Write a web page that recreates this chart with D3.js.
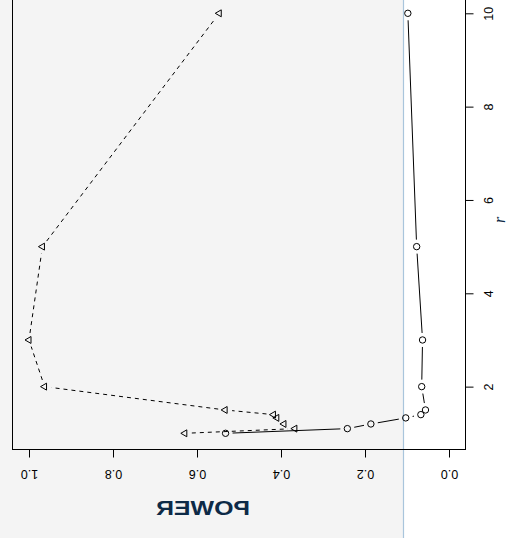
<!DOCTYPE html>
<html>
<head>
<meta charset="utf-8">
<script src="https://cdn.jsdelivr.net/npm/d3@7"></script>
<style>
  html, body { margin: 0; padding: 0; background: #ffffff; }
  svg { display: block; }
</style>
</head>
<body>
<svg id="chart" width="523" height="538"></svg>
<script>
// Power against r for two tests, drawn turned a quarter turn
const rValues = [1, 1.1, 1.2, 1.33, 1.4, 1.5, 2, 3, 5, 10];
const powerCircle = [0.532, 0.242, 0.186, 0.103, 0.067, 0.056, 0.065, 0.063, 0.077, 0.098];
const powerTriangle = [0.629, 0.367, 0.393, 0.41, 0.418, 0.533, 0.963, 1.0, 0.968, 0.547];
const rTicks = [2, 4, 6, 8, 10];
const powerTicks = [0, 0.2, 0.4, 0.6, 0.8, 1.0];

const svg = d3.select("#chart");

// page panel behind the figure
svg.append("rect").attr("x", 0).attr("y", 0).attr("width", 403).attr("height", 538).attr("fill", "#f4f4f4");
svg.append("line").attr("x1", 403.5).attr("x2", 403.5).attr("y1", 0).attr("y2", 538)
  .attr("stroke", "#a9c5dc").attr("stroke-width", 1.2);

// r runs upward, power runs leftward
const rScale = d3.scaleLinear().domain([1, 10]).range([433.3, 13.3]);
const pScale = d3.scaleLinear().domain([0, 1]).range([449, 29]);

const boxLeft = 12.5, boxRight = 465.5, boxBottom = 449.5;
const boxTop = rScale(10.36);

svg.append("rect")
  .attr("x", boxLeft).attr("y", boxTop)
  .attr("width", boxRight - boxLeft).attr("height", boxBottom - boxTop)
  .attr("fill", "none").attr("stroke", "#000").attr("stroke-width", 1);

// power axis along the bottom
const pAxis = svg.append("g")
  .attr("transform", `translate(0,${boxBottom})`)
  .call(d3.axisBottom(pScale).tickValues(powerTicks).tickSize(8).tickFormat(d3.format(".1f")));
pAxis.select(".domain").remove();
pAxis.selectAll(".tick line").attr("stroke", "#000");
pAxis.selectAll(".tick text")
  .attr("y", null).attr("dy", null)
  .attr("dominant-baseline", "central")
  .attr("transform", "translate(0,24) rotate(180)")
  .attr("fill", "#000")
  .style("font-family", "'Liberation Sans', Arial, sans-serif")
  .style("font-size", "12.5px");

// r axis along the right side
const rAxis = svg.append("g")
  .attr("transform", `translate(${boxRight},0)`)
  .call(d3.axisRight(rScale).tickValues(rTicks).tickSize(8).tickFormat(d3.format("d")));
rAxis.select(".domain").remove();
rAxis.selectAll(".tick line").attr("stroke", "#000");
rAxis.selectAll(".tick text")
  .attr("x", null).attr("dy", null)
  .attr("text-anchor", "middle")
  .attr("dominant-baseline", "central")
  .attr("transform", "translate(23,0) rotate(-90)")
  .attr("fill", "#000")
  .style("font-family", "'Liberation Sans', Arial, sans-serif")
  .style("font-size", "12.5px");

// connecting segments leave a gap around each marker
const gap = 7;
function drawSeries(values, dash) {
  const pts = rValues.map((r, i) => [pScale(values[i]), rScale(r)]);
  const segs = [];
  for (let i = 0; i < pts.length - 1; i++) {
    const [x0, y0] = pts[i], [x1, y1] = pts[i + 1];
    const d = Math.hypot(x1 - x0, y1 - y0);
    if (d > 2 * gap) {
      const f = gap / d;
      segs.push([x0 + (x1 - x0) * f, y0 + (y1 - y0) * f, x1 - (x1 - x0) * f, y1 - (y1 - y0) * f]);
    }
  }
  svg.append("g").selectAll("line").data(segs).join("line")
    .attr("x1", d => d[0]).attr("y1", d => d[1])
    .attr("x2", d => d[2]).attr("y2", d => d[3])
    .attr("stroke", "#000").attr("stroke-width", 1)
    .attr("stroke-dasharray", dash);
  return pts;
}

const circlePts = drawSeries(powerCircle, null);
svg.append("g").selectAll("circle").data(circlePts).join("circle")
  .attr("cx", d => d[0]).attr("cy", d => d[1]).attr("r", 3.2)
  .attr("fill", "none").attr("stroke", "#000").attr("stroke-width", 1);

const triPts = drawSeries(powerTriangle, "4,4");
const tr = 4;
svg.append("g").selectAll("path").data(triPts).join("path")
  .attr("d", d => `M${d[0] - tr},${d[1]}L${d[0] + tr / 2},${d[1] - tr * 0.866}L${d[0] + tr / 2},${d[1] + tr * 0.866}Z`)
  .attr("fill", "none").attr("stroke", "#000").attr("stroke-width", 1);

// axis titles
svg.append("text")
  .attr("transform", "translate(203,515) scale(-1,1)")
  .attr("text-anchor", "middle")
  .attr("textLength", 94).attr("lengthAdjust", "spacingAndGlyphs")
  .attr("fill", "#0d2a47")
  .style("font-family", "'Liberation Sans', Arial, sans-serif")
  .style("font-weight", "bold")
  .style("font-size", "21px")
  .text("POWER");

svg.append("text")
  .attr("transform", "translate(505,220) rotate(-90)")
  .attr("text-anchor", "middle")
  .attr("fill", "#0d2a47")
  .style("font-family", "'Liberation Serif', 'DejaVu Serif', serif")
  .style("font-style", "italic")
  .style("font-size", "16px")
  .text("r");
</script>
</body>
</html>
